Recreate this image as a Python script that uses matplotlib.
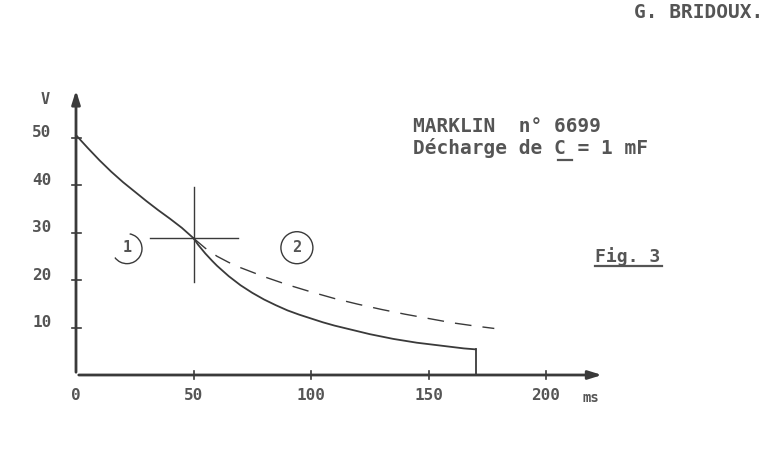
import numpy as np
import matplotlib
matplotlib.use("Agg")
import matplotlib.pyplot as plt
from matplotlib.patches import Arc, Ellipse

# courbe 1 : decharge avant le point de raccordement (ms, V)
t1 = [0, 5, 10, 15, 20, 25, 30, 35, 40, 45, 50]
v1 = [50.5, 47.8, 45.2, 42.8, 40.6, 38.6, 36.6, 34.7, 32.9, 31.0, 28.8]

# courbe 2 : decharge reelle (trait plein)
t2 = [50, 52, 55, 58, 60, 65, 70, 75, 80, 85, 90, 95, 100, 105, 110, 115, 120,
      125, 130, 135, 140, 145, 150, 155, 160, 165, 170]
v2 = [28.8, 27.4, 25.6, 24.0, 23.0, 20.8, 18.9, 17.3, 15.9, 14.7, 13.6, 12.7,
      11.9, 11.1, 10.4, 9.8, 9.2, 8.6, 8.1, 7.6, 7.2, 6.8, 6.5, 6.2, 5.9, 5.6, 5.4]

# prolongement en tirets
t3 = [50, 55, 60, 65, 70, 80, 90, 100, 110, 120, 130, 140, 150, 160, 170, 178]
v3 = [28.8, 26.7, 25.0, 23.7, 22.6, 20.7, 19.0, 17.5, 16.1, 14.9, 13.8, 12.8,
      11.9, 11.0, 10.3, 9.8]

xticks = [0, 50, 100, 150, 200]
yticks = [10, 20, 30, 40, 50]
t_cut = 170

ink = "#3a3a3a"
txt = "#555555"
mono = ["DejaVu Sans Mono"]

fig = plt.figure(figsize=(7.72, 4.57), dpi=100)
ax = fig.add_axes([0, 0, 1, 1])
ax.set_xlim(-76 / 2.35, (772 - 76) / 2.35)
ax.set_ylim((375 - 457) / 4.75, 375 / 4.75)
ax.axis("off")

# axes avec fleches
ax.annotate("", xy=(225, 0), xytext=(0, 0),
            arrowprops=dict(arrowstyle="-|>,head_length=0.8,head_width=0.25", color=ink, lw=2))
ax.annotate("", xy=(0, 60.5), xytext=(0, 0),
            arrowprops=dict(arrowstyle="-|>,head_length=0.8,head_width=0.25", color=ink, lw=2))

for x in xticks[1:]:
    ax.plot([x, x], [-0.8, 0.8], color=ink, lw=1.2)
for y in yticks:
    ax.plot([-1.8, 2.2], [y, y], color=ink, lw=1.2)
    ax.text(-14.5, y + 1.0, str(y), ha="center", va="center", color=txt,
            fontsize=11.5, fontweight="bold", family=mono)
for x in xticks:
    ax.text(x, -4.4, str(x), ha="center", va="center", color=txt,
            fontsize=11.5, fontweight="bold", family=mono)
ax.text(-13.2, 58, "V", ha="center", va="center", color=txt, fontsize=11,
        fontweight="bold", family=mono)
ax.text(219, -4.8, "ms", ha="center", va="center", color=txt, fontsize=10,
        fontweight="bold", family=mono)

# courbes
ax.plot(t1, v1, color=ink, lw=1.3)
ax.plot(t2, v2, color=ink, lw=1.3)
ax.plot([t_cut, t_cut], [v2[-1], 0], color=ink, lw=1.3)
ax.plot(t3, v3, color=ink, lw=1.0, dashes=(12, 8))

# croix au point de raccordement
ax.plot([50, 50], [19.5, 39.5], color=ink, lw=1.0)
ax.plot([31.5, 69], [28.8, 28.8], color=ink, lw=1.0)

# reperes 1 et 2
ax.add_patch(Arc((21.7, 26.6), 30 / 2.35, 30 / 4.75, theta1=-160, theta2=70,
                 color=ink, lw=1.0))
ax.text(21.7, 26.8, "1", ha="center", va="center", color=txt, fontsize=11,
        fontweight="bold", family=mono)
ax.add_patch(Ellipse((94, 26.8), 32 / 2.35, 32 / 4.75, fill=False, color=ink, lw=1.0))
ax.text(94, 26.9, "2", ha="center", va="center", color=txt, fontsize=11,
        fontweight="bold", family=mono)

# textes
ax.text(143.4, 52.4, "MARKLIN  n° 6699", ha="left", va="center", color=txt,
        fontsize=14, fontweight="bold", family=mono)
ax.text(143.4, 47.8, "Décharge de C = 1 mF", ha="left", va="center", color=txt,
        fontsize=14, fontweight="bold", family=mono)
ax.plot([205.1, 210.9], [45.2, 45.2], color=txt, lw=1.6)
ax.text(220.9, 24.9, "Fig. 3", ha="left", va="center", color=txt,
        fontsize=13, fontweight="bold", family=mono)
ax.plot([220.9, 249.4], [23.0, 23.0], color=txt, lw=1.6)
ax.text(292.3, 76.4, "G. BRIDOUX.", ha="right", va="center", color=txt,
        fontsize=14, fontweight="bold", family=mono)

fig.savefig("out.png", dpi=100, facecolor="white")
